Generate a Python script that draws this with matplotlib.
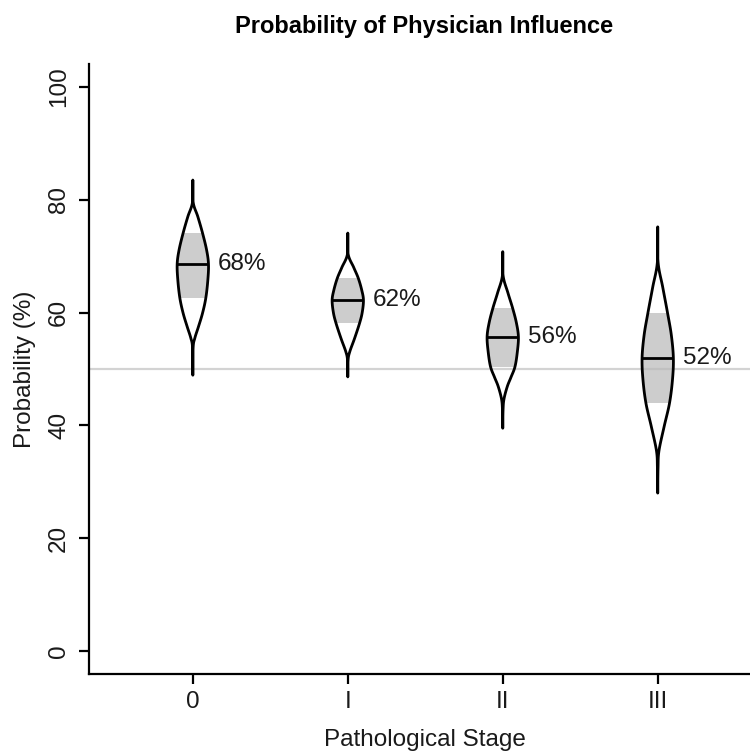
import numpy as np
import matplotlib
matplotlib.use('Agg')
import matplotlib.pyplot as plt
from matplotlib.patches import Polygon, Rectangle

plt.rcParams['font.family'] = ['Liberation Sans', 'DejaVu Sans']

# ---------------- data ----------------
stages = ['0', 'I', 'II', 'III']
medians = [68.6, 62.2, 55.7, 51.9]
median_labels = ['68%', '62%', '56%', '52%']
shade_lo = [62.6, 58.1, 50.4, 43.9]
shade_hi = [74.1, 66.1, 60.8, 59.9]
reference_value = 50

# violin density profiles: value (%) and relative half-width
prof0_y = [83.5, 79.6, 77.0, 74.1, 71.1, 68.6, 65.8, 62.6, 59.9, 57.5, 55.5, 53.8, 48.9]
prof0_w = [0.0, 0.02, 0.32, 0.62, 0.88, 1.00, 0.96, 0.83, 0.62, 0.36, 0.13, 0.02, 0.0]
prof1_y = [74.1, 70.4, 68.0, 66.1, 64.0, 62.2, 60.0, 58.1, 55.4, 53.1, 51.6, 48.6]
prof1_w = [0.0, 0.02, 0.38, 0.67, 0.89, 1.00, 0.92, 0.75, 0.43, 0.13, 0.02, 0.0]
prof2_y = [70.8, 66.6, 63.5, 60.8, 58.2, 55.7, 53.0, 50.4, 48.5, 46.9, 44.7, 42.8, 39.5]
prof2_w = [0.0, 0.02, 0.33, 0.63, 0.87, 1.00, 0.93, 0.78, 0.52, 0.29, 0.08, 0.02, 0.0]
prof3_y = [75.2, 69.0, 64.5, 59.9, 56.0, 51.9, 48.0, 43.9, 39.8, 35.5, 32.5, 28.0]
prof3_w = [0.0, 0.02, 0.32, 0.63, 0.87, 1.00, 0.94, 0.75, 0.41, 0.08, 0.02, 0.0]
profiles_y = [prof0_y, prof1_y, prof2_y, prof3_y]
profiles_w = [prof0_w, prof1_w, prof2_w, prof3_w]

yticks = [0, 20, 40, 60, 80, 100]

# ---------------- figure ----------------
W, H = 750, 756
fig = plt.figure(figsize=(W / 100, H / 100), dpi=100)
left_px, right_px = 89, 760
top_px, bottom_px = 64.4, 673.6
ax = fig.add_axes([left_px / W, 1 - bottom_px / H,
                   (right_px - left_px) / W, (bottom_px - top_px) / H])
ax.set_xlim(-0.67, 3.66)
ax.set_ylim(-4, 104)

max_half = 0.101
fs = 17.5
lw = 2.0


def smooth_profile(ys, ws, n=16):
    """Catmull-Rom smoothing of the outline through the read points (drawing only)."""
    sy, sw = 5.64, 15.7  # approx px per unit, so smoothing is isotropic on screen
    P = np.column_stack([np.asarray(ws) * sw, np.asarray(ys) * sy])
    P = np.vstack([P[0], P, P[-1]])
    out = []
    t = np.linspace(0, 1, n, endpoint=False)[:, None]
    for k in range(1, len(P) - 2):
        p0, p1, p2, p3 = P[k - 1], P[k], P[k + 1], P[k + 2]
        pts = 0.5 * (2 * p1 + (-p0 + p2) * t + (2 * p0 - 5 * p1 + 4 * p2 - p3) * t ** 2
                     + (-p0 + 3 * p1 - 3 * p2 + p3) * t ** 3)
        out.append(pts)
    out.append(P[-2][None, :])
    Q = np.vstack(out)
    return Q[:, 1] / sy, np.clip(Q[:, 0] / sw, 0, None)


ax.axhline(reference_value, color='#d3d3d3', lw=1.6, zorder=1)

for i in range(len(stages)):
    y, wr = smooth_profile(profiles_y[i], profiles_w[i])
    w = wr * max_half
    xs = np.concatenate([i + w, (i - w)[::-1]])
    ys = np.concatenate([y, y[::-1]])
    verts = np.column_stack([xs, ys])
    clip = Polygon(verts, closed=True, facecolor='none', edgecolor='none')
    ax.add_patch(clip)
    shade = Rectangle((i - 0.2, shade_lo[i]), 0.4, shade_hi[i] - shade_lo[i],
                      facecolor='#b8b8b8', alpha=0.7, edgecolor='none', zorder=2)
    ax.add_patch(shade)
    shade.set_clip_path(clip)
    outline = Polygon(verts, closed=True, facecolor='none', edgecolor='black',
                      lw=lw, joinstyle='round', zorder=3)
    ax.add_patch(outline)
    hw = max_half * np.interp(medians[i], profiles_y[i][::-1], profiles_w[i][::-1])
    ax.plot([i - hw, i + hw], [medians[i], medians[i]], color='black', lw=lw,
            solid_capstyle='butt', zorder=4)
    ax.text(i + 0.16, medians[i], median_labels[i], ha='left', va='center',
            fontsize=fs, color='#1a1a1a', zorder=5)

ax.set_xticks(range(len(stages)))
ax.set_xticklabels(stages)
ax.set_yticks(yticks)
ax.set_yticklabels([str(t) for t in yticks], rotation=90, va='center')

for s in ['top', 'right']:
    ax.spines[s].set_visible(False)
for s in ['left', 'bottom']:
    ax.spines[s].set_linewidth(1.6)

ax.tick_params(axis='both', length=7.5, width=1.6, labelsize=fs, colors='black',
               labelcolor='#1a1a1a')
ax.tick_params(axis='x', pad=5)
ax.tick_params(axis='y', pad=6)

ax.set_xlabel('Pathological Stage', fontsize=fs, color='#1a1a1a')
ax.xaxis.set_label_coords(0.5, (bottom_px - 740) / (bottom_px - top_px))
ax.xaxis.label.set_va('center')
ax.set_ylabel('Probability (%)', fontsize=fs, color='#1a1a1a')
ax.yaxis.set_label_coords((25 - left_px) / (right_px - left_px), 0.5)
ax.yaxis.label.set_va('center')

ax.set_title('Probability of Physician Influence', fontsize=17, fontweight='bold',
             y=(bottom_px - 27) / (bottom_px - top_px), va='center', pad=0)

fig.savefig('out.png', dpi=100)
